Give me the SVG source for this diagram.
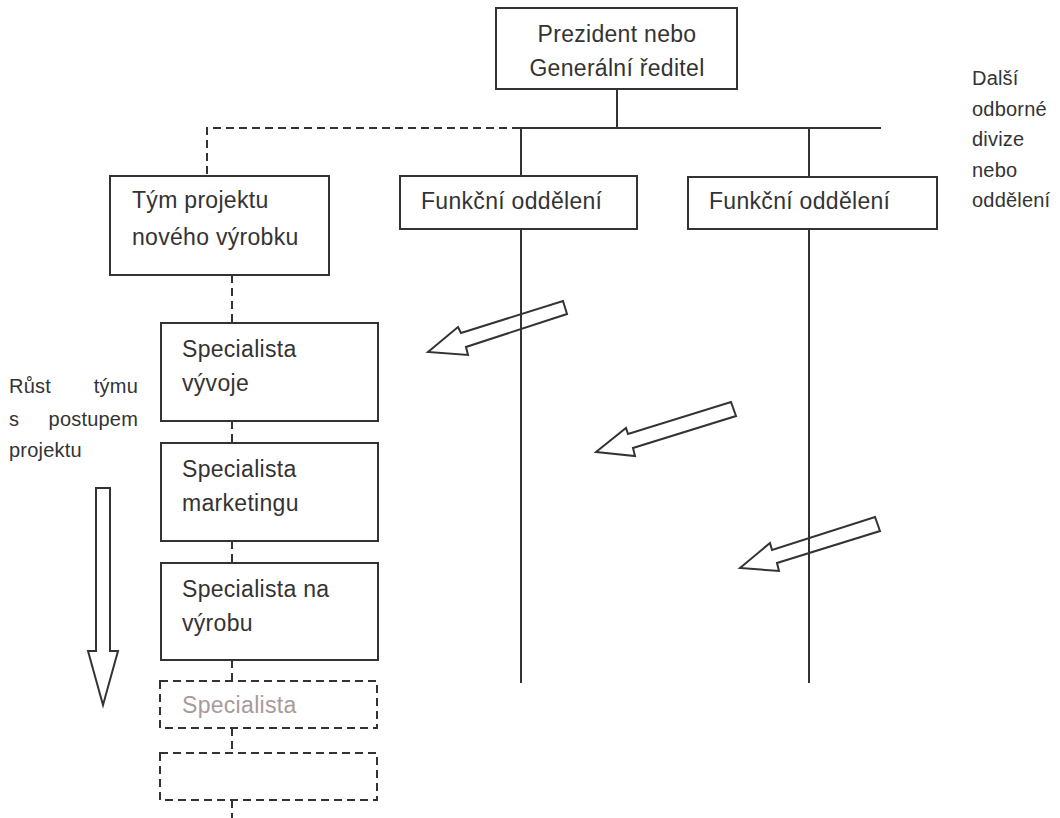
<svg xmlns="http://www.w3.org/2000/svg" width="1060" height="818" viewBox="0 0 1060 818">
  <style>
    .box { fill: #ffffff; stroke: #333333; stroke-width: 2; }
    .dbox { fill: none; stroke: #333333; stroke-width: 2; stroke-dasharray: 8 5; }
    .line { fill: none; stroke: #333333; stroke-width: 2; }
    .dash { fill: none; stroke: #333333; stroke-width: 2; stroke-dasharray: 8 5; }
    .flow { fill: none; stroke: #333333; stroke-width: 2; stroke-linejoin: miter; }
    .t { font-family: "Liberation Sans", Arial, sans-serif; font-size: 23px; letter-spacing: 0.3px; fill: #333333; }
    .s { font-family: "Liberation Sans", Arial, sans-serif; font-size: 20px; letter-spacing: 0.2px; fill: #333333; }
    .ghost { fill: #a89a9a; }
  </style>

  <!-- connectors -->
  <g id="connectors">
    <line class="line" x1="617" y1="89" x2="617" y2="128"/>
    <line class="line" x1="520" y1="128" x2="881" y2="128"/>
    <polyline class="dash" points="520,128 207,128 207,176"/>
    <line class="line" x1="521" y1="128" x2="521" y2="176"/>
    <line class="line" x1="521" y1="229" x2="521" y2="683"/>
    <line class="line" x1="809" y1="128" x2="809" y2="177"/>
    <line class="line" x1="809" y1="229" x2="809" y2="683"/>
    <line class="dash" x1="232" y1="275" x2="232" y2="323"/>
    <line class="dash" x1="232" y1="421" x2="232" y2="443"/>
    <line class="dash" x1="232" y1="541" x2="232" y2="563"/>
    <line class="dash" x1="232" y1="660" x2="232" y2="681"/>
    <line class="dash" x1="232" y1="728" x2="232" y2="753"/>
    <line class="dash" x1="232" y1="800" x2="232" y2="818"/>
    <!-- staff transfer arrows from departments to the project team -->
    <polygon class="flow" points="428,352 458,327 461,333 563,301 567,314 466,347 468,355"/>
    <polygon class="flow" points="596,452 626,428 628,434 731,402 736,416 633,448 635,456"/>
    <polygon class="flow" points="740,568 770,543 772,550 875,517 880,531 777,563 779,571"/>
    <!-- team growth arrow -->
    <polygon class="flow" points="96,488 110,488 110,651 118,651 103,705 88,651 96,651"/>
  </g>

  <g id="president">
    <rect class="box" x="496" y="8" width="241" height="81"/>
    <text class="t" x="617" y="42" text-anchor="middle">Prezident nebo</text>
    <text class="t" x="617" y="76" text-anchor="middle">Generální ředitel</text>
  </g>

  <g id="project-team">
    <rect class="box" x="110" y="176" width="219" height="99"/>
    <text class="t" x="132" y="208">Tým projektu</text>
    <text class="t" x="132" y="245">nového výrobku</text>
  </g>

  <g id="dept-1">
    <rect class="box" x="400" y="176" width="237" height="53"/>
    <text class="t" x="421" y="209">Funkční oddělení</text>
  </g>

  <g id="dept-2">
    <rect class="box" x="688" y="177" width="249" height="52"/>
    <text class="t" x="709" y="209">Funkční oddělení</text>
  </g>

  <g id="other-divisions">
    <text class="s" x="972" y="85">Další</text>
    <text class="s" x="972" y="116">odborné</text>
    <text class="s" x="972" y="146">divize</text>
    <text class="s" x="972" y="176.5">nebo</text>
    <text class="s" x="972" y="207">oddělení</text>
  </g>

  <g id="team-growth">
    <text class="s" x="9" y="393">Růst</text>
    <text class="s" x="138" y="393" text-anchor="end">týmu</text>
    <text class="s" x="9" y="426">s</text>
    <text class="s" x="138" y="426" text-anchor="end">postupem</text>
    <text class="s" x="9" y="457">projektu</text>
  </g>

  <g id="spec-development">
    <rect class="box" x="161" y="323" width="217" height="98"/>
    <text class="t" x="182" y="357">Specialista</text>
    <text class="t" x="182" y="391">vývoje</text>
  </g>

  <g id="spec-marketing">
    <rect class="box" x="161" y="443" width="217" height="98"/>
    <text class="t" x="182" y="477">Specialista</text>
    <text class="t" x="182" y="511">marketingu</text>
  </g>

  <g id="spec-production">
    <rect class="box" x="161" y="563" width="217" height="97"/>
    <text class="t" x="182" y="597">Specialista na</text>
    <text class="t" x="182" y="631">výrobu</text>
  </g>

  <g id="spec-future">
    <rect class="dbox" x="160" y="681" width="217" height="47"/>
    <text class="t ghost" x="182" y="713">Specialista</text>
  </g>

  <g id="spec-empty">
    <rect class="dbox" x="160" y="753" width="217" height="47"/>
  </g>
</svg>
